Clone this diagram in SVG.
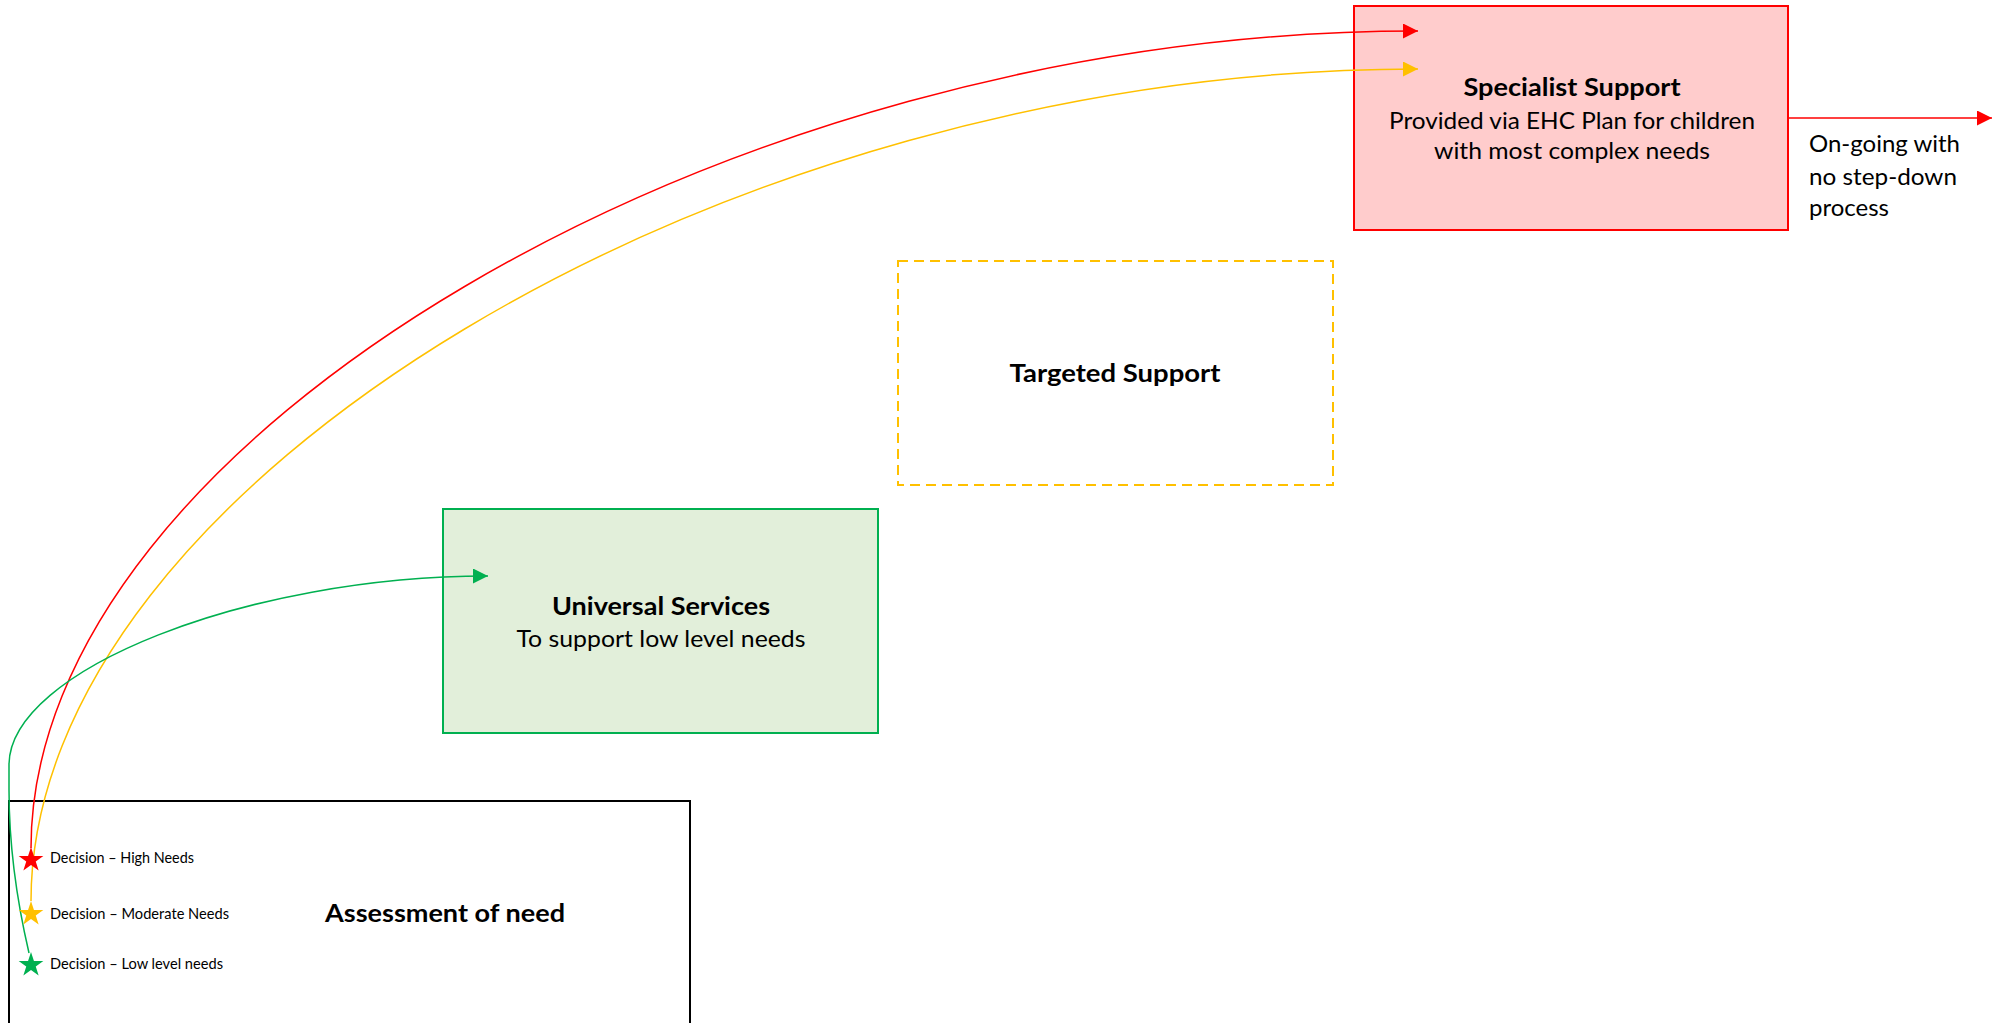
<svg xmlns="http://www.w3.org/2000/svg" width="1992" height="1023" viewBox="0 0 1992 1023">
<style>
  text { font-family: Lato, "Liberation Sans", "DejaVu Sans", sans-serif; fill: #000; }
  .title { font-size: 25px; font-weight: bold; text-anchor: middle; }
  .body { font-size: 23px; text-anchor: middle; }
  .note { font-size: 23px; }
  .small { font-size: 15px; }
  .conn { fill: none; stroke-width: 1.5; }
</style>
<defs>
  <marker id="arrRed" markerUnits="userSpaceOnUse" markerWidth="15" markerHeight="15" refX="15" refY="7.5" orient="auto" viewBox="0 0 15 15">
    <path d="M0,0 L15,7.5 L0,15 Z" fill="#FF0000"/>
  </marker>
  <marker id="arrYellow" markerUnits="userSpaceOnUse" markerWidth="15" markerHeight="15" refX="15" refY="7.5" orient="auto" viewBox="0 0 15 15">
    <path d="M0,0 L15,7.5 L0,15 Z" fill="#FFC000"/>
  </marker>
  <marker id="arrGreen" markerUnits="userSpaceOnUse" markerWidth="15" markerHeight="15" refX="15" refY="7.5" orient="auto" viewBox="0 0 15 15">
    <path d="M0,0 L15,7.5 L0,15 Z" fill="#00B050"/>
  </marker>
  <path id="star" d="M0,-13 L2.94,-4.05 L12.36,-4.02 L4.76,1.55 L7.64,10.52 L0,5 L-7.64,10.52 L-4.76,1.55 L-12.36,-4.02 L-2.94,-4.05 Z"/>
</defs>
<rect width="1992" height="1023" fill="#FFFFFF"/>

<g id="specialist">
  <rect x="1354" y="6" width="434" height="224" fill="#FFCCCC" stroke="#FF0000" stroke-width="2"/>
  <text class="title" x="1572" y="96" textLength="217" lengthAdjust="spacingAndGlyphs">Specialist Support</text>
  <text class="body" x="1572" y="129" textLength="366" lengthAdjust="spacingAndGlyphs">Provided via EHC Plan for children</text>
  <text class="body" x="1572" y="159" textLength="276" lengthAdjust="spacingAndGlyphs">with most complex needs</text>
</g>

<g id="ongoing-note">
  <text class="note" x="1809" y="152" textLength="151" lengthAdjust="spacingAndGlyphs">On-going with</text>
  <text class="note" x="1809" y="185" textLength="148" lengthAdjust="spacingAndGlyphs">no step-down</text>
  <text class="note" x="1809" y="216" textLength="80" lengthAdjust="spacingAndGlyphs">process</text>
</g>

<g id="targeted">
  <rect x="898" y="261" width="435" height="224" fill="none" stroke="#FFC000" stroke-width="2" stroke-dasharray="10,6"/>
  <text class="title" x="1115" y="382" textLength="211" lengthAdjust="spacingAndGlyphs">Targeted Support</text>
</g>

<g id="universal">
  <rect x="443" y="509" width="435" height="224" fill="#E2EFDA" stroke="#00B050" stroke-width="2"/>
  <text class="title" x="661" y="615" textLength="218" lengthAdjust="spacingAndGlyphs">Universal Services</text>
  <text class="body" x="661" y="647" textLength="289" lengthAdjust="spacingAndGlyphs">To support low level needs</text>
</g>

<g id="assessment">
  <rect x="9" y="801" width="681" height="240" fill="none" stroke="#000000" stroke-width="2"/>
  <text class="title" x="445" y="922" textLength="240" lengthAdjust="spacingAndGlyphs">Assessment of need</text>
  <text class="small" x="50" y="863" textLength="144" lengthAdjust="spacingAndGlyphs">Decision – High Needs</text>
  <text class="small" x="50" y="919" textLength="179" lengthAdjust="spacingAndGlyphs">Decision – Moderate Needs</text>
  <text class="small" x="50" y="969" textLength="173" lengthAdjust="spacingAndGlyphs">Decision – Low level needs</text>
</g>

<g id="connectors">
  <path class="conn" stroke="#FF0000" d="M31,848 C31,440 725,31 1418,31" marker-end="url(#arrRed)"/>
  <path class="conn" stroke="#FFC000" d="M31,901 C31,485 725,69 1418,69" marker-end="url(#arrYellow)"/>
  <path class="conn" stroke="#00B050" d="M29,953 C19,910 9,850 9,790 L9,765 C9,670 248,576 488,576" marker-end="url(#arrGreen)"/>
  <path class="conn" stroke="#FF0000" d="M1788,118 L1992,118" marker-end="url(#arrRed)"/>
</g>

<g id="stars">
  <use href="#star" x="31" y="860" fill="#FF0000"/>
  <use href="#star" x="31" y="914" fill="#FFC000"/>
  <use href="#star" x="31" y="965" fill="#00B050"/>
</g>
</svg>
